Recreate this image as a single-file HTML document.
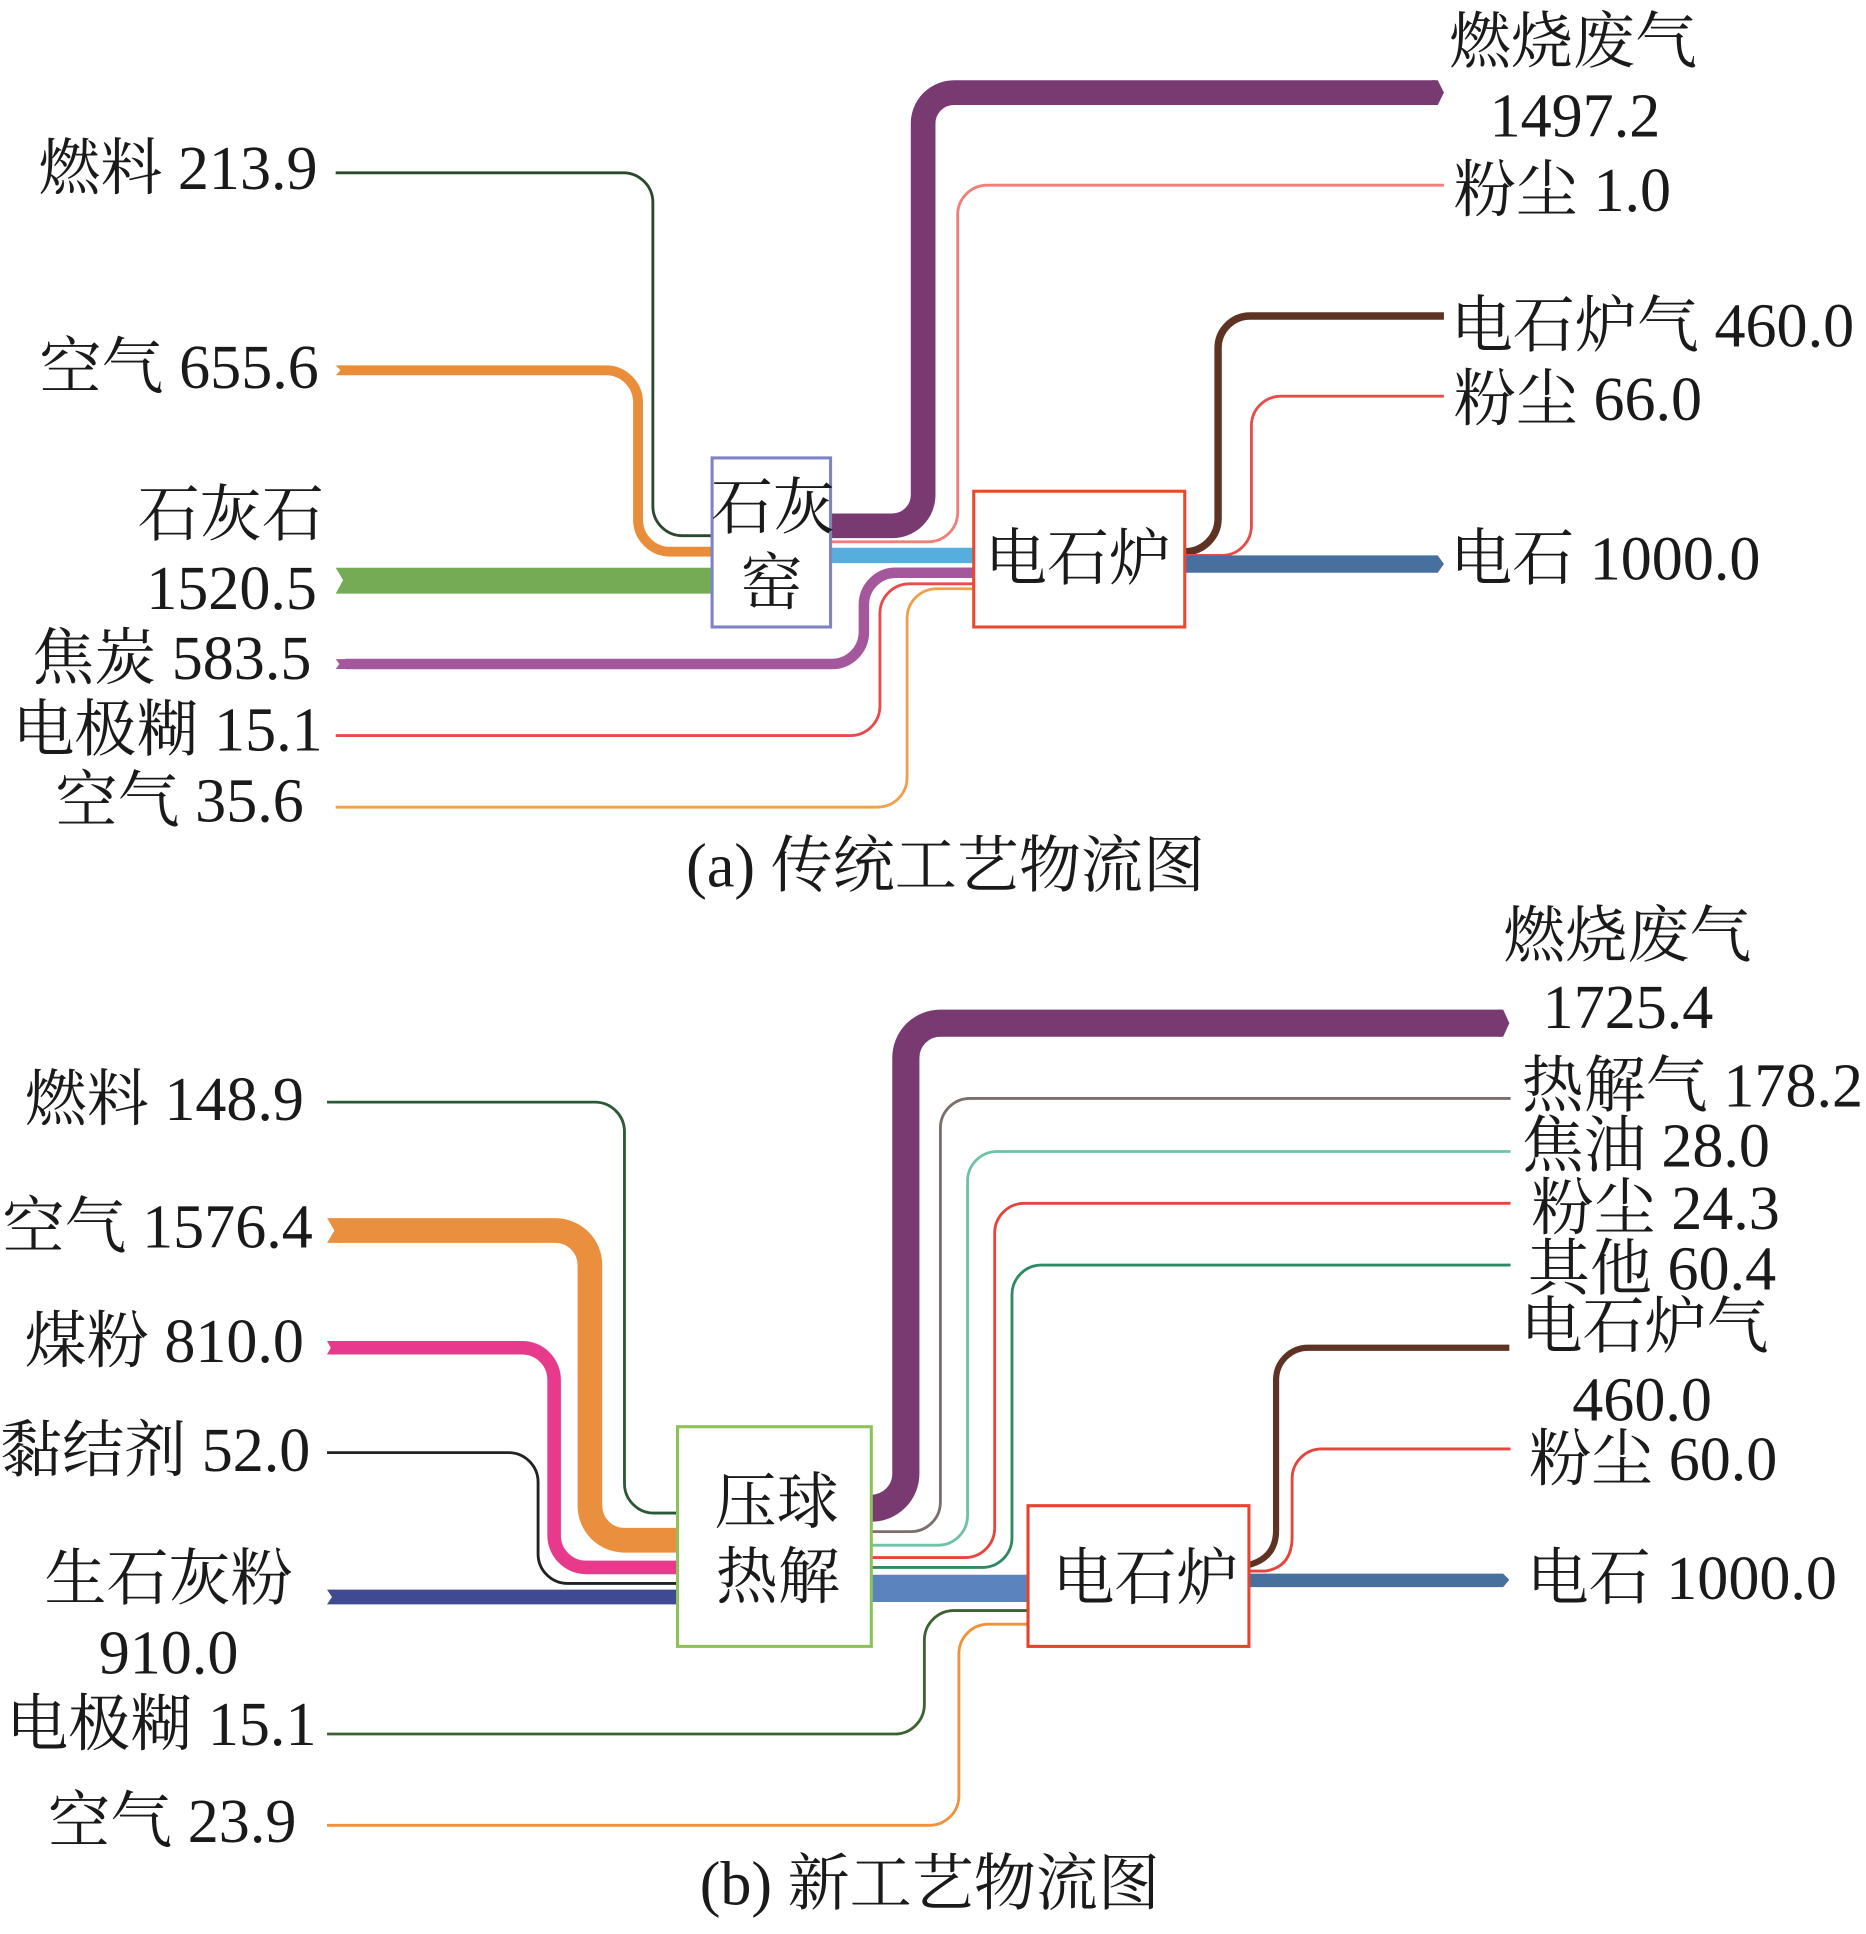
<!DOCTYPE html>
<html lang="zh">
<head>
<meta charset="utf-8">
<style>
html,body{margin:0;padding:0;background:#fff;}
svg{display:block;}
text{font-family:"Liberation Serif","Noto Serif CJK SC",serif;font-size:50.3px;fill:#1a1a1a;}
path{fill:none;}
</style>
</head>
<body>
<svg width="1866" height="1934" viewBox="0 0 1512 1567" xmlns="http://www.w3.org/2000/svg">
<rect width="1512" height="1567" fill="#fff"/>

<!-- (a) flows -->
<path d="M272 140H505A24 24 0 0 1 529 164V410A24 24 0 0 0 553 434H577" stroke="#2b4a2c" stroke-width="2.3"/>
<path d="M280 300H491A26 26 0 0 1 517 326V421A26 26 0 0 0 543 447H577" stroke="#ea8d3a" stroke-width="8"/>
<polygon points="272,296 282,296 282,304 272,304 276,300" fill="#ea8d3a"/>
<polygon points="272,460 577,460 577,481 272,481 278,470" fill="#76ab55"/>
<path d="M280 538H674A26 26 0 0 0 700 512V490A26 26 0 0 1 726 464H789" stroke="#a4579a" stroke-width="8.5"/>
<polygon points="272,534 282,534 282,542 272,542 275,538" fill="#a4579a"/>
<path d="M272 596H689A24 24 0 0 0 713 572V497A24 24 0 0 1 737 473H789" stroke="#e94b4b" stroke-width="2.3"/>
<path d="M272 654H711A24 24 0 0 0 735 630V501A24 24 0 0 1 759 477H789" stroke="#f0a04b" stroke-width="2.3"/>
<path d="M673 450H789" stroke="#55aedd" stroke-width="12.5"/>
<path d="M673 426H723A25 25 0 0 0 748 401V100A25 25 0 0 1 773 75H1163" stroke="#783a70" stroke-width="20"/>
<polygon points="1160,65 1165,65 1170,75 1165,85 1160,85" fill="#783a70"/>
<path d="M673 439H752A24 24 0 0 0 776 415V174A24 24 0 0 1 800 150H1170" stroke="#ef7f78" stroke-width="2.3"/>
<path d="M960 447A27 27 0 0 0 987 420V282A26 26 0 0 1 1013 256H1170" stroke="#5f3323" stroke-width="6"/>
<path d="M960 450H990A24 24 0 0 0 1014 426V345A24 24 0 0 1 1038 321H1170" stroke="#e94b4b" stroke-width="2.3"/>
<polygon points="960,450 1165,450 1170,457 1165,464 960,464" fill="#48709f"/>
<rect x="577" y="371" width="96" height="137" fill="#fff" fill-opacity="0.9" stroke="#7e83c4" stroke-width="2.5"/>
<rect x="789" y="398" width="171" height="110" fill="#fff" stroke="#e8492f" stroke-width="2.5"/>

<!-- (b) flows -->
<path d="M265 893H482A24 24 0 0 1 506 917V1202A24 24 0 0 0 530 1226H549" stroke="#2a5a35" stroke-width="2.3"/>
<path d="M275 997H450A28 28 0 0 1 478 1025V1220A28 28 0 0 0 506 1248H549" stroke="#ea8f3e" stroke-width="20"/>
<polygon points="265,987 277,987 277,1007 265,1007 271,997" fill="#ea8f3e"/>
<path d="M275 1092H423A26 26 0 0 1 449 1118V1244A26 26 0 0 0 475 1270H549" stroke="#e83a8d" stroke-width="11"/>
<polygon points="265,1086.5 277,1086.5 277,1097.5 265,1097.5 268,1092" fill="#e83a8d"/>
<path d="M265 1177H412A24 24 0 0 1 436 1201V1259A24 24 0 0 0 460 1283H549" stroke="#222" stroke-width="2.3"/>
<polygon points="265,1288 549,1288 549,1300 265,1300 269,1294" fill="#3f4a92"/>
<path d="M265 1405H725A24 24 0 0 0 749 1381V1329A24 24 0 0 1 773 1305H833" stroke="#3c6133" stroke-width="2.3"/>
<path d="M265 1479H753A24 24 0 0 0 777 1455V1340A24 24 0 0 1 801 1316H833" stroke="#f0913c" stroke-width="2.3"/>
<path d="M706 1287H833" stroke="#5b84bf" stroke-width="22"/>
<path d="M706 1222A28 28 0 0 0 734 1194V857A28 28 0 0 1 762 829H1216" stroke="#783a70" stroke-width="22"/>
<polygon points="1214,818 1218,818 1223,829 1218,840 1214,840" fill="#783a70"/>
<path d="M706 1241H738A24 24 0 0 0 762 1217V914A24 24 0 0 1 786 890H1224" stroke="#7a6f6c" stroke-width="2.3"/>
<path d="M706 1252H760A24 24 0 0 0 784 1228V957A24 24 0 0 1 808 933H1224" stroke="#6fc2a5" stroke-width="2.3"/>
<path d="M706 1262H782A24 24 0 0 0 806 1238V999A24 24 0 0 1 830 975H1224" stroke="#e8433d" stroke-width="2.3"/>
<path d="M706 1270H796A24 24 0 0 0 820 1246V1049A24 24 0 0 1 844 1025H1224" stroke="#2e8a62" stroke-width="2.3"/>
<path d="M1012 1268Q1034 1262 1034 1240V1118A26 26 0 0 1 1060 1092H1223" stroke="#5f3323" stroke-width="5"/>
<path d="M1012 1273H1025Q1047 1270 1047 1245V1198A24 24 0 0 1 1071 1174H1224" stroke="#e8433d" stroke-width="2.3"/>
<polygon points="1012,1275 1218,1275 1223,1280 1218,1286 1012,1286" fill="#48709f"/>
<rect x="549" y="1156" width="157" height="178" fill="#fff" stroke="#8dc25a" stroke-width="2.5"/>
<rect x="833" y="1220" width="179" height="114" fill="#fff" stroke="#e8412c" stroke-width="2.5"/>

<!-- (a) labels -->
<text x="31" y="153" xml:space="preserve">燃料 213.9</text>
<text x="32" y="314.5" xml:space="preserve">空气 655.6</text>
<text x="111.5" y="434">石灰石</text>
<text x="118.5" y="493.5">1520.5</text>
<text x="26" y="550" xml:space="preserve">焦炭 583.5</text>
<text x="10" y="608" xml:space="preserve">电极糊 15.1</text>
<text x="45" y="665.5" xml:space="preserve">空气 35.6</text>
<text x="576" y="428">石灰</text>
<text x="600" y="489.5">窑</text>
<text x="798" y="469.6">电石炉</text>
<text x="1174" y="50.7">燃烧废气</text>
<text x="1207" y="110.4">1497.2</text>
<text x="1178" y="171" xml:space="preserve">粉尘 1.0</text>
<text x="1175.5" y="280.6" xml:space="preserve">电石炉气 460.0</text>
<text x="1178" y="340.3" xml:space="preserve">粉尘 66.0</text>
<text x="1175" y="469.6" xml:space="preserve">电石 1000.0</text>
<text x="556" y="718.4" xml:space="preserve">(a) 传统工艺物流图</text>

<!-- (b) labels -->
<text x="20" y="907.5" xml:space="preserve">燃料 148.9</text>
<text x="2" y="1011" xml:space="preserve">空气 1576.4</text>
<text x="20" y="1103.5" xml:space="preserve">煤粉 810.0</text>
<text x="0" y="1192" xml:space="preserve">黏结剂 52.0</text>
<text x="36" y="1296">生石灰粉</text>
<text x="80" y="1356">910.0</text>
<text x="5" y="1414" xml:space="preserve">电极糊 15.1</text>
<text x="39" y="1492.5" xml:space="preserve">空气 23.9</text>
<text x="579" y="1234">压球</text>
<text x="580" y="1295">热解</text>
<text x="852.7" y="1295.5">电石炉</text>
<text x="1218" y="775">燃烧废气</text>
<text x="1250" y="832.8">1725.4</text>
<text x="1233" y="896.5" xml:space="preserve">热解气 178.2</text>
<text x="1233" y="945" xml:space="preserve">焦油 28.0</text>
<text x="1241" y="996" xml:space="preserve">粉尘 24.3</text>
<text x="1238" y="1044.8" xml:space="preserve">其他 60.4</text>
<text x="1232" y="1092">电石炉气</text>
<text x="1274" y="1151">460.0</text>
<text x="1239" y="1199" xml:space="preserve">粉尘 60.0</text>
<text x="1237" y="1295.5" xml:space="preserve">电石 1000.0</text>
<text x="567" y="1543" xml:space="preserve">(b) 新工艺物流图</text>
</svg>
</body>
</html>
